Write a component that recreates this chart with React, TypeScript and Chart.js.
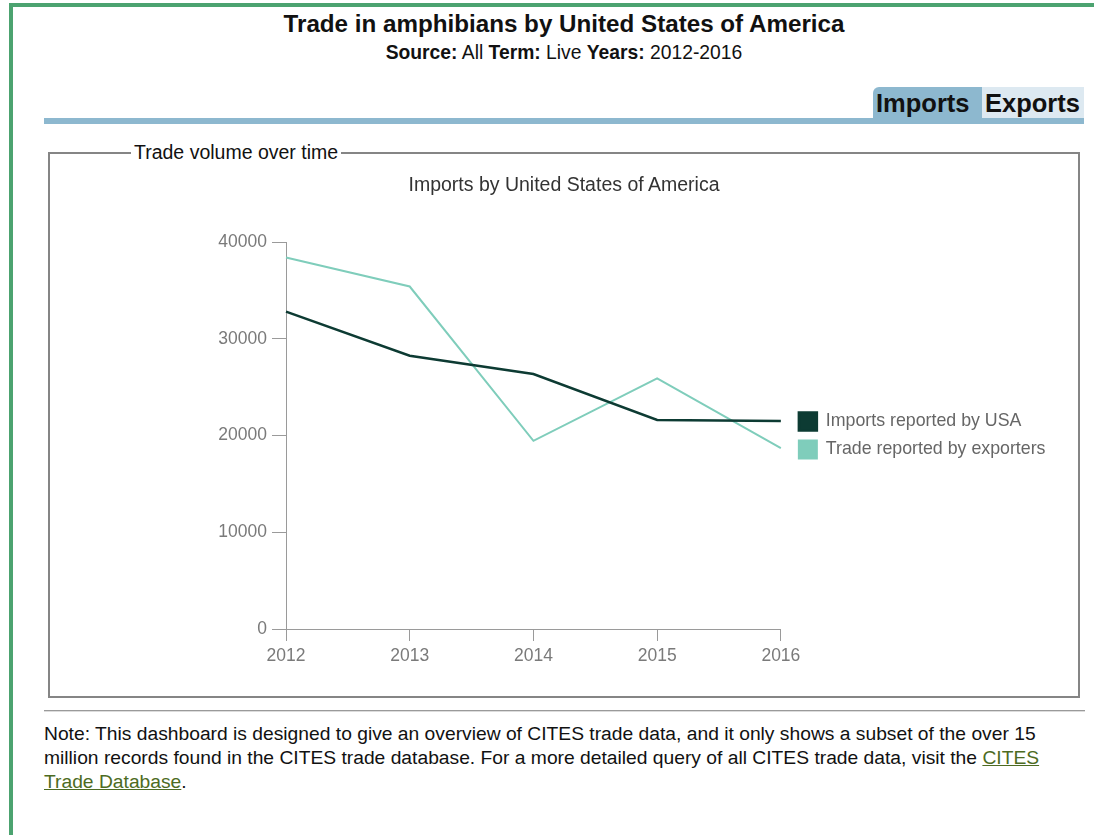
import React, { useEffect, useRef } from "react";
import { Chart, registerables } from "chart.js";

Chart.register(...registerables);

const years = ["2012", "2013", "2014", "2015", "2016"];
const importsUSA = [32800, 28250, 26350, 21600, 21500];
const exportersReported = [38400, 35400, 19450, 25900, 18700];
const seriesLabels = ["Imports reported by USA", "Trade reported by exporters"];
const yTickValues = [0, 10000, 20000, 30000, 40000];

const FONT = "'Liberation Sans', Arial, Helvetica, sans-serif";

function TradeChart() {
  const ref = useRef<HTMLCanvasElement | null>(null);
  useEffect(() => {
    if (!ref.current) return;
    const chart = new Chart(ref.current, {
      type: "line",
      data: {
        labels: years,
        datasets: [
          {
            label: seriesLabels[0],
            data: importsUSA,
            borderColor: "#0d3b33",
            backgroundColor: "#0d3b33",
            borderWidth: 2.5,
            pointRadius: 0,
            tension: 0,
            fill: false,
          },
          {
            label: seriesLabels[1],
            data: exportersReported,
            borderColor: "#7fcdbb",
            backgroundColor: "#7fcdbb",
            borderWidth: 2,
            pointRadius: 0,
            tension: 0,
            fill: false,
          },
        ],
      },
      options: {
        responsive: false,
        animation: false,
        devicePixelRatio: 1,
        layout: { padding: { left: 0, top: 82, bottom: 21, right: 22.5 } },
        plugins: {
          tooltip: { enabled: false },
          title: { display: false },
          legend: {
            position: "right",
            align: "center",
            fullSize: false,
            maxWidth: 320,
            labels: {
              boxWidth: 18,
              boxHeight: 18,
              padding: 10,
              color: "#666",
              font: { family: FONT, size: 17.8 },
            },
          },
        },
        scales: {
          x: {
            type: "category",
            offset: false,
            grid: {
              display: true,
              drawOnChartArea: false,
              drawTicks: true,
              tickLength: 12,
              color: "#9a9a9a",
            },
            border: { display: true, color: "#9a9a9a", width: 1 },
            ticks: {
              color: "#7a7a7a",
              padding: 5,
              font: { family: FONT, size: 17.5 },
              maxRotation: 0,
            },
            afterFit: (s: any) => {
              s.height = 40;
            },
          },
          y: {
            min: 0,
            max: 40000,
            afterBuildTicks: (s: any) => {
              s.ticks = yTickValues.map((v) => ({ value: v }));
            },
            grid: {
              display: true,
              drawOnChartArea: false,
              drawTicks: true,
              tickLength: 14,
              color: "#9a9a9a",
            },
            border: { display: true, color: "#9a9a9a", width: 1 },
            ticks: {
              color: "#7a7a7a",
              padding: 5,
              font: { family: FONT, size: 17.5 },
              callback: (v: any) => String(v),
            },
            afterFit: (s: any) => {
              s.width = 236;
            },
          },
          gap: {
            type: "linear",
            position: "right",
            display: true,
            grid: { display: false },
            border: { display: false },
            ticks: { display: false },
            afterFit: (s: any) => {
              s.width = 8;
            },
          },
        },
      },
    } as any);
    return () => chart.destroy();
  }, []);
  return (
    <canvas
      ref={ref}
      width={1028}
      height={530}
      style={{ position: "absolute", left: 50, top: 160, width: 1028, height: 530 }}
    />
  );
}

export default function App() {
  return (
    <div
      style={{
        position: "absolute",
        left: 0,
        top: 0,
        width: 1094,
        height: 835,
        overflow: "hidden",
        background: "#fff",
        fontFamily: FONT,
        color: "#111",
      }}
    >
      {/* green frame */}
      <div
        style={{
          position: "absolute",
          left: 9,
          top: 3,
          width: 1200,
          height: 1000,
          borderLeft: "4px solid #4ca370",
          borderTop: "4px solid #4ca370",
        }}
      />
      {/* header */}
      <div
        style={{
          position: "absolute",
          left: 14,
          width: 1100,
          top: 10,
          textAlign: "center",
          fontWeight: "bold",
          fontSize: 24.2,
          lineHeight: "28px",
          color: "#111",
        }}
      >
        Trade in amphibians by United States of America
      </div>
      <div
        style={{
          position: "absolute",
          left: 14,
          width: 1100,
          top: 42,
          textAlign: "center",
          fontSize: 19.3,
          lineHeight: "22px",
          color: "#111",
        }}
      >
        <b>Source:</b> All <b>Term:</b> Live <b>Years:</b> 2012-2016
      </div>
      {/* tabs */}
      <div
        style={{
          position: "absolute",
          left: 873,
          top: 87,
          width: 109,
          height: 31,
          background: "#8db8cf",
          borderTopLeftRadius: 6,
          fontWeight: "bold",
          fontSize: 25.5,
          lineHeight: "32px",
          paddingLeft: 3,
          boxSizing: "border-box",
          color: "#111",
        }}
      >
        Imports
      </div>
      <div
        style={{
          position: "absolute",
          left: 982,
          top: 87,
          width: 102,
          height: 31,
          background: "#dde9f1",
          fontWeight: "bold",
          fontSize: 25.5,
          lineHeight: "32px",
          paddingLeft: 3,
          boxSizing: "border-box",
          color: "#111",
        }}
      >
        Exports
      </div>
      <div
        style={{
          position: "absolute",
          left: 44,
          top: 118,
          width: 1040,
          height: 6,
          background: "#8db8cf",
        }}
      />
      {/* fieldset frame */}
      <div
        style={{
          position: "absolute",
          left: 48,
          top: 152,
          width: 1032,
          height: 546,
          boxSizing: "border-box",
          border: "2px solid #858585",
        }}
      />
      <TradeChart />
      <div
        style={{
          position: "absolute",
          left: 131,
          top: 141,
          padding: "0 3px",
          background: "#fff",
          fontSize: 19.5,
          lineHeight: "23px",
          color: "#111",
        }}
      >
        Trade volume over time
      </div>
      <div
        style={{
          position: "absolute",
          left: 48,
          width: 1032,
          top: 173,
          textAlign: "center",
          fontSize: 19.5,
          lineHeight: "23px",
          color: "#333",
        }}
      >
        Imports by United States of America
      </div>
      {/* rule */}
      <div
        style={{
          position: "absolute",
          left: 44,
          top: 710,
          width: 1041,
          height: 0,
          borderTop: "1px solid #9a9a9a",
          borderBottom: "1px solid #dcdcdc",
        }}
      />
      {/* note */}
      <div
        style={{
          position: "absolute",
          left: 44,
          top: 722,
          width: 1012,
          fontSize: 19.25,
          lineHeight: "24px",
          color: "#111",
        }}
      >
        Note: This dashboard is designed to give an overview of CITES trade data, and it only shows a subset of
        the over 15 million records found in the CITES trade database. For a more detailed query of all CITES trade
        data, visit the{" "}
        <a href="#" style={{ color: "#4d6b22", textDecoration: "underline" }}>
          CITES Trade Database
        </a>
        .
      </div>
    </div>
  );
}
